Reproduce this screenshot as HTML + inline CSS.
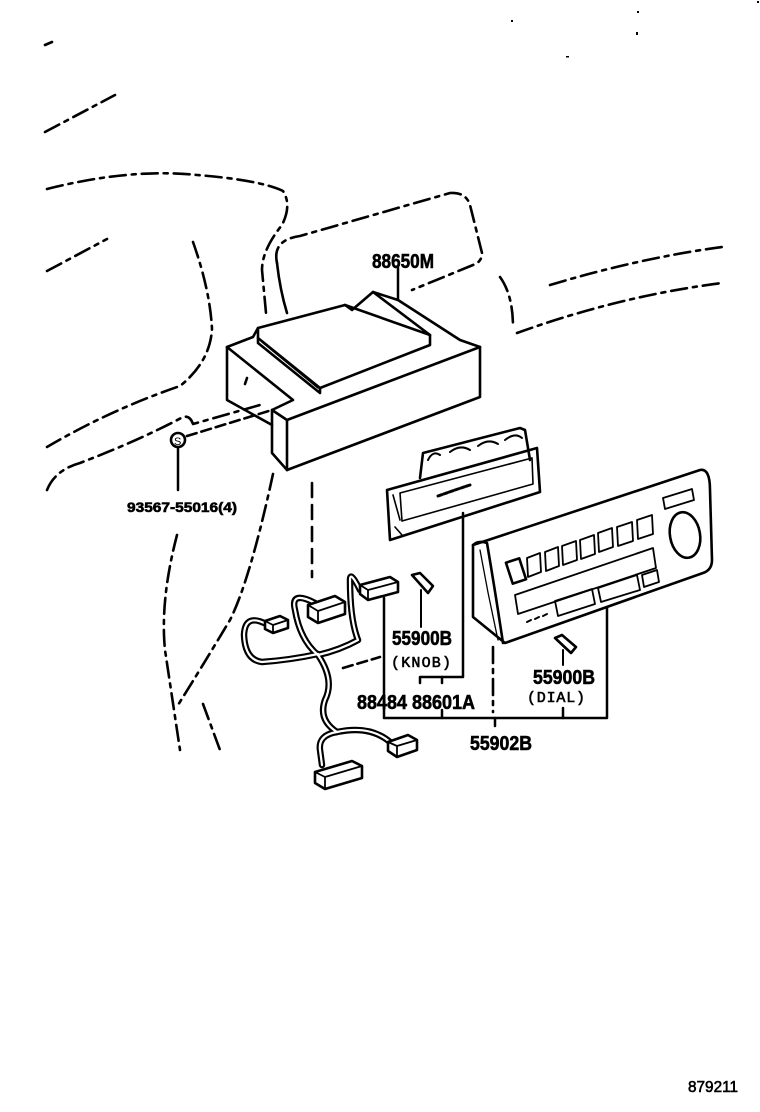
<!DOCTYPE html>
<html><head><meta charset="utf-8"><style>
html,body{margin:0;padding:0;background:#fff;}
svg{display:block;}
text{font-family:"Liberation Sans Narrow","Liberation Sans",sans-serif;font-weight:bold;fill:#000;stroke:#000;stroke-width:0.6;}
</style></head><body>
<svg width="760" height="1112" viewBox="0 0 760 1112" xmlns="http://www.w3.org/2000/svg">
<g fill="none" stroke="#000" stroke-width="2.6" stroke-linecap="round" stroke-linejoin="round">
<!-- dash-dot background lines -->
<g stroke-dasharray="16 6 4 6">
<path d="M45,132 L115,95"/>
<path d="M47,189 Q130,168 197,175 Q260,180 283,191 Q292,205 282,225 Q262,250 262,270 L266,313"/>
<path d="M47,271 L107,239"/>
<path d="M193,242 Q210,290 212,329 Q210,362 180,386 Q110,410 47,447"/>
<path d="M47,490 Q55,470 80,463 Q140,440 183,417 Q190,415 193,424 L260,405"/>
<path d="M277,263 Q272,240 300,236 L450,193 Q466,192 470,205 L482,253 Q482,262 473,265 L412,290"/>
<path d="M500,277 Q513,295 513,327"/>
<path d="M550,285 Q640,258 722,247"/>
<path d="M517,333 Q620,296 722,283"/>
<path d="M177,535 Q160,600 165,650 L180,750"/>
<path d="M273,474 Q250,580 230,620 Q200,670 178,705"/>
<path d="M203,704 L220,750"/>
<path d="M493,647 L493,712"/>
</g>
<path d="M277,263 Q280,290 287,313" />
<path d="M45,45 L52,42"/>
<!-- dashed -->
<g stroke-dasharray="10 5">
<path d="M187,436 L272,410"/>
<path d="M343,668 L380,657"/>
</g>
<path d="M312,483 L312,577" stroke-dasharray="14 8"/>

<!-- 88650M box -->
<path d="M227,347 L227,400 L272,425"/>
<path d="M227,347 L253,337 L258,328 L345,305 L352,310 L373,292 L398,300 L460,340 L480,347 L480,397 L287,470 L272,453 L272,410 L293,400 L227,347"/>
<path d="M287,420 L480,347"/>
<path d="M287,420 L287,470"/>
<path d="M272,410 L287,420"/>
<path d="M258,328 L258,338 L320,388 L430,345 L430,335 L345,305"/>
<path d="M258,338 L258,343 L320,393 L320,388" />
<path d="M262,342 L318,388" stroke-width="1.5"/>
<path d="M373,292 L430,335"/>
<path d="M247,378 L245,384"/>
<!-- screw -->
<circle cx="178" cy="440" r="7"/>
<text x="174" y="445" font-size="11" style="font-weight:normal;stroke-width:0" >S</text>
<path d="M178,447 L178,490" stroke-width="2.5"/>

<!-- 88601A panel -->
<path d="M387,490 L537,448 L540,492 L390,540 Z"/>
<path d="M400,493 L532,458 L533,484 L402,521 Z" stroke-width="1.6"/>
<path d="M393,495 L400,520 M395,527 L402,535" stroke-width="1.6"/>
<path d="M420,478 L423,453 L520,428 L525,430 L530,460"/>
<path d="M428,460 Q433,450 440,455 M450,452 Q460,444 470,450 M478,446 Q488,438 498,444 M505,440 Q515,432 522,438" stroke-width="2"/>
<path d="M438,496 L455,490 L470,485" stroke-width="3" stroke-dasharray="4 2"/>

<!-- 55902B control panel -->
<path d="M473,545 L700,470 Q710,468 710,490 L712,560 Q712,570 703,573 L505,643 L473,617 Z"/>
<path d="M473,545 Q478,540 487,543 Q495,590 503,643"/>
<path d="M480,550 Q488,595 498,640" stroke-width="1.3"/>
<rect x="509" y="560" width="14" height="22" transform="rotate(-18 516 571)"/>
<path d="M527,558 L540,553 L541,572 L528,577 Z M545,552 L558,547 L559,566 L546,571 Z M562,546 L576,541 L577,560 L563,565 Z M580,540 L594,535 L595,554 L581,559 Z M598,533 L612,528 L613,547 L599,552 Z M617,527 L632,522 L633,541 L618,546 Z M637,520 L652,515 L653,534 L638,539 Z" stroke-width="1.8"/>
<path d="M515,595 L653,548 L656,568 L518,614 Z" stroke-width="1.8"/>
<path d="M555,601 L592,589 L595,604 L558,616 Z" stroke-width="1.8"/>
<path d="M598,588 L637,575 L640,590 L601,602 Z" stroke-width="1.8"/>
<path d="M642,575 L657,570 L659,582 L644,587 Z" stroke-width="1.8"/>
<path d="M527,622 L531,620 M535,619 L539,617 M543,616 L547,614" stroke-width="2"/>
<ellipse cx="685" cy="535" rx="15" ry="23" transform="rotate(-10 685 535)"/>
<path d="M663,498 L692,489 L694,500 L665,509 Z" stroke-width="1.8"/>

<!-- knob pins -->
<path d="M412,575 L420,573 L433,586 L428,593 Z"/>
<path d="M421,590 L421,627" stroke-width="2"/>
<path d="M555,638 L562,635 L576,647 L571,653 Z"/>
<path d="M563,650 L563,665" stroke-width="2"/>

<!-- leaders -->
<path d="M398,268 L398,300" stroke-width="2.5"/>
<path d="M384,598 L384,718 L607,718 L607,608" stroke-width="2.5"/>
<path d="M463,513 L463,677 L420,677 L420,683" stroke-width="2.5"/>
<path d="M442,677 L442,683 M442,710 L442,718 M563,708 L563,718 M495,718 L495,726" stroke-width="2.5"/>

<!-- harness wires (double) -->
<g stroke="#000" stroke-width="6.5">
<path id="w1" d="M268,625 Q245,612 244,635 Q245,660 262,662 Q290,660 318,654"/>
<path id="w2" d="M315,603 Q290,590 295,610 Q300,640 318,655"/>
<path id="w3" d="M360,590 Q350,570 350,580 Q350,620 358,640 Q340,650 318,655"/>
<path id="w4" d="M318,655 Q335,680 325,700 Q318,720 337,732 Q370,725 390,742"/>
<path id="w5" d="M337,732 Q318,735 320,750 L322,765"/>
</g>
<g stroke="#fff" stroke-width="2.2">
<use href="#w1"/><use href="#w2"/><use href="#w3"/><use href="#w4"/><use href="#w5"/>
</g>
<!-- connectors -->
<g fill="#fff">
<path d="M308,605 L335,596 L345,602 L345,614 L318,623 L308,617 Z"/>
<path d="M360,585 L390,577 L398,582 L398,592 L368,600 L360,594 Z"/>
<path d="M265,621 L280,616 L288,620 L288,628 L273,633 L265,629 Z"/>
<path d="M315,772 L352,761 L362,766 L362,778 L325,789 L315,783 Z"/>
<path d="M388,742 L408,735 L417,740 L417,750 L397,757 L388,751 Z"/>
</g>
<path d="M308,605 L318,611 L345,602 M318,611 L318,623 M360,585 L368,590 L398,582 M368,590 L368,600 M265,621 L273,625 L288,620 M273,625 L273,633 M315,772 L325,777 L362,766 M325,777 L325,789 M388,742 L397,746 L417,740 M397,746 L397,757" stroke-width="1.8"/>
</g>
<!-- dots -->
<g fill="#000"><rect x="511" y="20" width="2" height="2"/><rect x="637" y="11" width="2" height="2"/><rect x="636" y="32" width="2" height="3"/><rect x="566" y="56" width="3" height="1.5"/><rect x="757" y="1" width="2" height="2"/></g>
<!-- labels -->
<text x="372" y="268" font-size="20" textLength="62" lengthAdjust="spacingAndGlyphs">88650M</text>
<text x="127" y="512" font-size="14" textLength="110" lengthAdjust="spacingAndGlyphs">93567-55016(4)</text>
<text x="392" y="645" font-size="20" textLength="60" lengthAdjust="spacingAndGlyphs">55900B</text>
<text x="391" y="667" font-size="15" textLength="60" lengthAdjust="spacing" style="font-weight:normal;font-family:'Liberation Mono',monospace">(KNOB)</text>
<text x="357" y="709" font-size="20" textLength="118" lengthAdjust="spacingAndGlyphs">88484 88601A</text>
<text x="533" y="684" font-size="20" textLength="62" lengthAdjust="spacingAndGlyphs">55900B</text>
<text x="527" y="702" font-size="15" textLength="58" lengthAdjust="spacing" style="font-weight:normal;font-family:'Liberation Mono',monospace">(DIAL)</text>
<text x="470" y="750" font-size="20" textLength="62" lengthAdjust="spacingAndGlyphs">55902B</text>
<text x="688" y="1092" font-size="16" textLength="50" lengthAdjust="spacingAndGlyphs" style="font-weight:normal">879211</text>
</svg>
</body></html>
